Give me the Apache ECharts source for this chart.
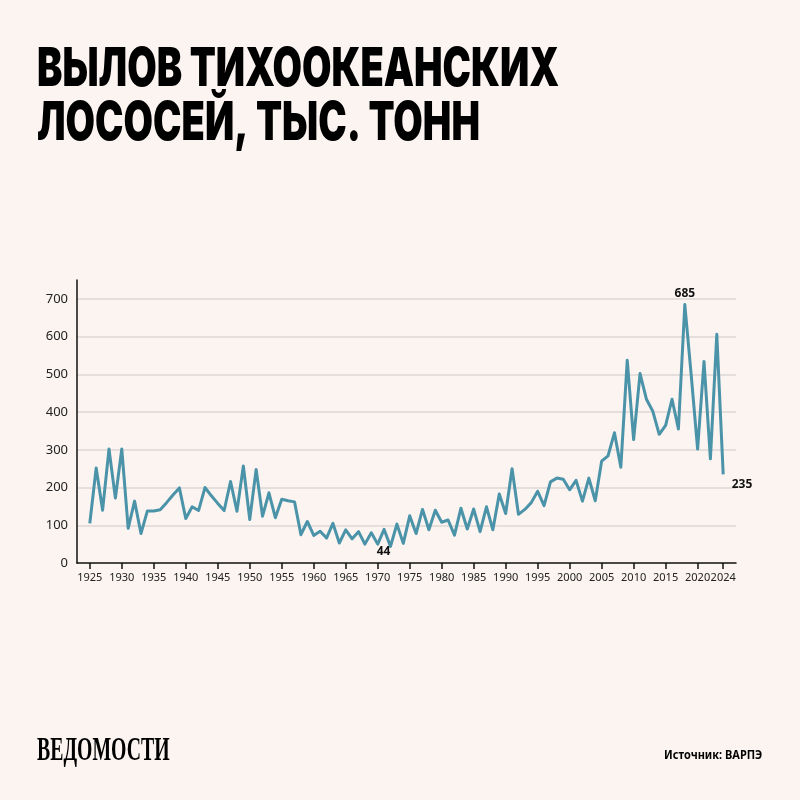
<!DOCTYPE html>
<html><head><meta charset="utf-8">
<script src="https://cdn.jsdelivr.net/npm/echarts@6/dist/echarts.min.js"></script>
<style>html,body{margin:0;padding:0;background:#FBF4F1}#c{width:800px;height:800px}</style>
</head><body><div id="c"></div>
<script>
const startYear = 1925;
const catch_kt = [
105,252,140,302,172,302,92,164,78,138,
138,141,160,180,199,118,149,139,200,178,
158,139,216,137,257,115,248,124,186,120,
169,165,162,75,110,73,84,66,105,53,
88,64,83,50,80,50,89,44,103,52,
125,78,142,88,140,108,114,74,145,90,
143,83,149,88,183,131,250,129,142,160,
190,152,215,225,222,194,219,164,225,165,
270,284,345,254,537,327,502,434,402,341,
365,434,355,685,498,302,534,276,606,235];
const axisFirstYear = 1923, axisLastYear = 2026;
const xTickLabels = [1925,1930,1935,1940,1945,1950,1955,1960,1965,1970,1975,1980,1985,1990,1995,2000,2005,2010,2015,2020,2024];
const labelled = {1972:'bottom',2018:'top',2024:'right'};
const titleLines = ['ВЫЛОВ ТИХООКЕАНСКИХ','ЛОСОСЕЙ, ТЫС. ТОНН'];
const sourceText = 'Источник: ВАРПЭ';
const logoText = 'ВЕДОМОСТИ';

const categories = [];
for (let y = axisFirstYear; y <= axisLastYear; y++) categories.push(String(y));
const lineData = categories.map(c=>{
  const i = +c - startYear;
  return (i < 0 || i >= catch_kt.length) ? '-' : catch_kt[i];
});
const markData = Object.keys(labelled).map(y=>{
  const pos = labelled[y];
  return {coord:[String(y), catch_kt[+y - startYear]], value:catch_kt[+y - startYear],
    label:{position:pos, distance: pos==='top'?4:2,
      offset: pos==='right'?[6,10]:(pos==='bottom'?[-7,-3]:[0,0])}};
});
const isTick = (idx, val) => xTickLabels.includes(+val);

const chart = echarts.init(document.getElementById('c'), null, {renderer:'canvas'});
chart.setOption({
  backgroundColor:'#FBF4F1',
  animation:false,
  grid:{left:77,right:64,top:280,bottom:237,containLabel:false},
  xAxis:{type:'category',data:categories,boundaryGap:false,
    axisLine:{show:true,lineStyle:{color:'#111',width:1.5}},
    axisTick:{show:true,length:6,interval:isTick,lineStyle:{color:'#111',width:1.5}},
    axisLabel:{interval:isTick,color:'#222',fontFamily:'Noto Sans',fontSize:11,margin:9,hideOverlap:false},
    splitLine:{show:false}},
  yAxis:{type:'value',min:0,max:750,interval:100,
    axisLine:{show:true,lineStyle:{color:'#111',width:1.5}},
    axisTick:{show:false},
    axisLabel:{color:'#222',fontFamily:'Noto Sans',fontSize:13,margin:9,showMaxLabel:false},
    splitLine:{show:true,showMinLine:false,showMaxLine:false,lineStyle:{color:'#DDD8D5',width:1.5}}},
  series:[{type:'line',data:lineData,symbol:'none',
    lineStyle:{color:'#4A93A8',width:3,join:'round'},
    markPoint:{symbol:'circle',symbolSize:1,itemStyle:{color:'rgba(0,0,0,0)'},
      label:{show:true,color:'#111',fontFamily:'Noto Sans',fontWeight:'bold',fontSize:12,formatter:p=>String(p.value)},
      data:markData}}],
  graphic:[
    {type:'text',x:37,y:43,scaleX:0.705,style:{text:titleLines[0],font:'900 54px Inter',fill:'#000'}},
    {type:'text',x:37,y:97,scaleX:0.705,style:{text:titleLines[1],font:'900 54px Inter',fill:'#000'}},
    {type:'text',x:37,y:735,scaleX:0.6,style:{text:logoText,font:'bold 33px "Liberation Serif"',fill:'#000'}},
    {type:'text',x:664,y:749,scaleX:0.88,style:{text:sourceText,font:'bold 12.5px "Noto Sans"',fill:'#000'}}
  ]
});
</script></body></html>
